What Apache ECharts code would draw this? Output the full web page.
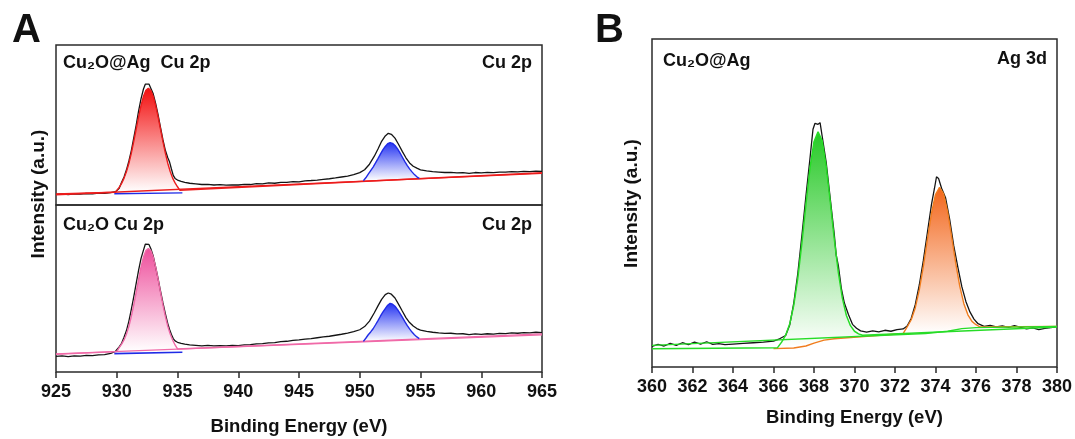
<!DOCTYPE html>
<html><head><meta charset="utf-8">
<script src="https://cdn.jsdelivr.net/npm/echarts@6/dist/echarts.min.js"></script>
<style>html,body{margin:0;padding:0;background:#fff}#c{width:1075px;height:439px}</style>
</head><body><div id="c"></div><script>
// ---------- Panel A (top): Cu2O@Ag Cu 2p ----------
const cuAgExp = [[925.0,6.6],[925.5,6.9],[926.0,6.5],[926.5,7.0],[927.0,6.8],[927.5,7.2],[928.0,6.9],[928.5,7.4],[929.0,7.3],[929.5,7.8],[929.9,8.3],[930.2,10.5],[930.4,14.2],[930.6,17.5],[930.8,22.0],[931.0,27.5],[931.2,34.0],[931.4,42.0],[931.6,50.0],[931.8,58.8],[932.0,66.5],[932.2,72.5],[932.35,75.5],[932.5,76.3],[932.65,75.6],[932.8,74.8],[933.0,69.5],[933.2,63.5],[933.4,56.5],[933.6,48.5],[933.8,40.8],[934.0,34.2],[934.2,29.5],[934.35,26.8],[934.5,22.5],[934.65,18.5],[934.8,16.6],[935.0,15.6],[935.3,14.8],[935.6,14.2],[936.0,13.6],[936.5,13.2],[937.0,12.8],[937.5,12.9],[938.0,12.5],[938.5,12.7],[939.0,12.4],[939.5,12.6],[940.0,12.5],[940.5,12.9],[941.0,12.8],[941.5,13.3],[942.0,13.2],[942.5,13.8],[943.0,13.6],[943.5,14.2],[944.0,14.1],[944.5,14.6],[945.0,14.5],[945.5,15.1],[946.0,15.3],[946.5,15.6],[947.0,16.0],[947.5,16.4],[948.0,16.9],[948.5,17.5],[949.0,18.0],[949.5,19.0],[950.0,20.2],[950.4,22.0],[950.8,25.5],[951.2,30.5],[951.5,35.0],[951.8,39.8],[952.1,43.2],[952.35,44.8],[952.6,44.2],[952.9,41.8],[953.2,37.8],[953.5,33.5],[953.8,29.5],[954.1,26.3],[954.4,24.2],[954.7,23.0],[955.0,22.0],[955.5,21.3],[956.0,20.9],[956.5,20.6],[957.0,20.3],[957.5,20.4],[958.0,20.1],[958.5,20.2],[959.0,19.8],[959.5,20.3],[960.0,20.1],[960.5,20.4],[961.0,20.2],[961.5,20.6],[962.0,20.5],[962.5,20.8],[963.0,20.7],[963.5,21.0],[964.0,20.9],[964.5,21.2],[965.0,21.0]];
const cuAgRedPeak = [[929.9,8.0],[930.2,11.0],[930.4,13.5],[930.6,16.8],[930.8,20.9],[931.0,26.1],[931.2,32.4],[931.4,39.7],[931.6,47.5],[931.8,55.2],[932.0,62.3],[932.2,68.0],[932.4,71.7],[932.6,73.0],[932.8,71.7],[933.0,68.0],[933.2,62.3],[933.4,55.2],[933.6,47.5],[933.8,39.7],[934.0,32.4],[934.2,26.1],[934.4,20.9],[934.6,16.8],[934.8,13.8],[935.0,11.4],[935.2,9.2]];
const cuAgRedLeft = [[925.0,6.9]];
const cuAgRedRight = [[965.0,20.2]];
const cuAgRedBg = [[925.0,6.4],[965.0,19.8]];
const cuAgBlueUnder = [[929.8,7.0],[935.4,7.6]];
const cuAgBluePeak = [[950.3,15.2],[950.5,17.0],[950.7,19.3],[950.9,21.5],[951.1,23.7],[951.3,26.3],[951.5,29.0],[951.7,31.8],[951.9,34.4],[952.1,36.6],[952.3,38.3],[952.5,39.0],[952.7,38.5],[952.9,37.2],[953.1,35.2],[953.3,32.7],[953.5,30.0],[953.7,27.3],[953.9,24.8],[954.1,22.6],[954.3,20.7],[954.5,19.0],[954.7,17.6],[954.9,16.6]];

// ---------- Panel A (bottom): Cu2O Cu 2p ----------
const cu2oExp = [[925.0,9.3],[925.5,9.6],[926.0,9.2],[926.5,9.7],[927.0,9.5],[927.5,9.9],[928.0,9.8],[928.5,10.3],[929.0,10.4],[929.5,11.2],[929.9,12.4],[930.2,15.0],[930.4,17.2],[930.6,20.8],[930.8,24.8],[931.0,30.5],[931.2,37.5],[931.4,45.0],[931.6,53.0],[931.8,61.0],[932.0,68.0],[932.2,73.0],[932.35,76.5],[932.5,77.2],[932.65,76.4],[932.8,74.0],[933.0,69.5],[933.2,63.0],[933.4,56.0],[933.6,48.5],[933.8,41.5],[934.0,35.0],[934.2,29.0],[934.35,25.5],[934.5,22.5],[934.65,20.0],[934.8,18.6],[935.0,17.8],[935.3,17.2],[935.6,16.7],[936.0,16.3],[936.5,16.0],[937.0,15.7],[937.5,15.9],[938.0,15.6],[938.5,15.8],[939.0,15.6],[939.5,15.9],[940.0,15.8],[940.5,16.3],[941.0,16.4],[941.5,16.9],[942.0,17.0],[942.5,17.5],[943.0,17.6],[943.5,18.2],[944.0,18.4],[944.5,18.9],[945.0,19.2],[945.5,19.7],[946.0,20.0],[946.5,20.5],[947.0,21.0],[947.5,21.4],[948.0,22.0],[948.5,22.6],[949.0,23.3],[949.5,24.2],[950.0,25.3],[950.4,27.2],[950.8,30.5],[951.2,35.5],[951.5,39.6],[951.8,43.5],[952.1,46.3],[952.35,47.3],[952.6,46.6],[952.9,44.3],[953.2,40.5],[953.5,36.5],[953.8,32.6],[954.1,29.6],[954.4,27.5],[954.7,26.0],[955.0,25.1],[955.5,24.3],[956.0,23.8],[956.5,23.4],[957.0,23.1],[957.5,23.2],[958.0,22.8],[958.5,22.9],[959.0,22.4],[959.5,22.8],[960.0,22.5],[960.5,22.9],[961.0,22.7],[961.5,23.1],[962.0,23.0],[962.5,23.4],[963.0,23.2],[963.5,23.6],[964.0,23.4],[964.5,23.8],[965.0,23.6]];
const cu2oPinkPeak = [[930.0,12.2],[930.2,14.6],[930.4,16.7],[930.6,19.2],[930.8,22.7],[931.0,27.4],[931.2,33.3],[931.4,40.2],[931.6,47.9],[931.8,55.6],[932.0,62.9],[932.2,68.8],[932.4,72.7],[932.6,74.0],[932.8,72.7],[933.0,68.8],[933.2,62.9],[933.4,55.6],[933.6,47.9],[933.8,40.2],[934.0,33.3],[934.2,27.4],[934.4,22.7],[934.6,19.2],[934.8,16.2],[935.0,13.8]];
const cu2oPinkLeft = [[925.0,10.6]];
const cu2oPinkRight = [[965.0,22.8]];
const cu2oPinkBg = [[925.0,10.8],[965.0,22.2]];
const cu2oBlueUnder = [[929.8,11.0],[935.4,11.8]];
const cu2oBluePeak = [[950.3,18.3],[950.5,20.2],[950.7,22.3],[950.9,24.0],[951.1,25.9],[951.3,28.3],[951.5,30.8],[951.7,33.4],[951.9,35.8],[952.1,38.0],[952.3,40.0],[952.5,41.1],[952.7,40.6],[952.9,39.4],[953.1,37.5],[953.3,35.2],[953.5,32.8],[953.7,30.3],[953.9,27.9],[954.1,25.8],[954.3,23.9],[954.5,22.3],[954.7,21.0],[954.9,20.0]];

// ---------- Panel B: Cu2O@Ag Ag 3d ----------
const agExp = [[360.0,6.3],[360.3,6.9],[360.6,6.4],[360.9,7.2],[361.2,6.6],[361.5,7.4],[361.8,6.8],[362.1,7.6],[362.4,7.0],[362.7,7.7],[363.0,6.9],[363.3,7.1],[363.6,6.8],[364.0,7.0],[364.5,7.2],[365.0,7.4],[365.5,7.6],[366.0,7.9],[366.3,8.6],[366.6,9.6],[366.8,12.8],[367.0,19.5],[367.2,28.5],[367.4,40.0],[367.6,52.0],[367.8,63.5],[367.95,72.5],[368.05,74.3],[368.2,74.0],[368.3,74.5],[368.4,70.5],[368.6,62.5],[368.8,51.5],[369.0,40.5],[369.1,34.0],[369.2,31.0],[369.35,24.0],[369.5,19.5],[369.7,16.0],[369.9,13.0],[370.1,11.8],[370.3,11.0],[370.6,10.6],[370.9,11.0],[371.2,10.7],[371.5,11.2],[371.8,10.9],[372.1,11.4],[372.4,11.6],[372.6,12.5],[372.8,14.8],[373.0,19.0],[373.2,25.0],[373.4,32.5],[373.6,41.0],[373.8,49.5],[373.95,54.5],[374.05,58.0],[374.15,57.5],[374.3,54.5],[374.5,51.5],[374.7,45.0],[374.9,37.0],[375.1,30.5],[375.3,24.5],[375.5,20.0],[375.7,16.8],[375.9,14.6],[376.1,13.2],[376.4,12.4],[376.7,12.7],[377.0,12.2],[377.3,12.5],[377.6,12.1],[377.9,12.6],[378.2,12.1],[378.5,11.6],[378.8,11.9],[379.1,11.4],[379.4,11.8],[379.7,12.0],[380.0,12.3]];
const agGreenPeak = [[366.2,5.9],[366.4,7.6],[366.6,9.7],[366.8,13.1],[367.0,18.8],[367.2,27.1],[367.4,37.7],[367.6,49.5],[367.8,60.6],[368.0,68.7],[368.2,71.7],[368.4,69.0],[368.6,61.3],[368.8,50.6],[369.0,39.1],[369.2,28.9],[369.4,21.0],[369.6,15.7],[369.8,12.6],[370.0,10.9],[370.2,10.1],[370.4,9.7]];
const agGreenLeft = [[360.0,5.6]];
const agGreenRight = [[380.0,12.2]];
const agGreenBg = [[360.0,6.6],[373.5,10.2],[374.6,10.9],[375.3,11.7],[376.0,12.0],[380.0,12.4]];
const agOrangeLeft = [[366.0,5.6],[367.0,5.8],[367.6,6.4],[368.0,7.3],[368.5,8.2],[369.0,8.6]];
const agOrangePeak = [[372.4,10.2],[372.6,12.2],[372.8,14.4],[373.0,18.0],[373.2,23.5],[373.4,30.7],[373.6,38.9],[373.8,46.8],[374.0,52.6],[374.2,54.8],[374.4,52.8],[374.6,47.3],[374.8,39.6],[375.0,31.6],[375.2,24.6],[375.4,19.3],[375.6,15.9],[375.8,13.9],[376.0,12.9],[376.2,12.2]];
const agOrangeRight = [[380.0,12.4]];

// ---------- Axis ticks / labels ----------
const cuTicks = {min: 925, max: 965, interval: 5};
const agTicks = {min: 360, max: 380, interval: 2};
const xTitle = 'Binding Energy (eV)';
const yTitle = 'Intensity (a.u.)';

const FONT = '"Liberation Sans", Arial, Helvetica, sans-serif';
const FRAME = '#2b2b2b';
const C = {black:'#141414', red:'#ec1c1c', blue:'#1f2be6', pink:'#f06aa8', green:'#27dc27', orange:'#f07d1e'};
const FILL = {red:'#f30f0f', blue:'#2433f2', pink:'#ee4f9c', green:'#27c927', orange:'#f2651a'};

function lineS(data, color, gi, width, z){
  return {type:'line', xAxisIndex:gi, yAxisIndex:gi, data:data, symbol:'none', silent:true,
    lineStyle:{color:color, width:width}, z:z, animation:false};
}
function fillS(pts, color, gi){
  const grad = new echarts.graphic.LinearGradient(0,0,0,1,[{offset:0,color:color},{offset:1,color:'#ffffff'}]);
  return {type:'custom', xAxisIndex:gi, yAxisIndex:gi, silent:true, z:1, animation:false,
    data:[pts[0]], encode:{x:0,y:1},
    renderItem:function(params, api){
      return {type:'polygon', shape:{points:pts.map(p=>api.coord(p))}, style:{fill:grad}};
    }};
}
function xAx(gi, t, labels, gap){
  return {type:'value', gridIndex:gi, min:t.min, max:t.max, interval:t.interval,
    axisLine:{show:false}, splitLine:{show:false},
    axisTick:{show:labels, length:6, lineStyle:{color:FRAME, width:1.5}},
    axisLabel:{show:labels, fontFamily:FONT, fontWeight:'bold', fontSize:18, color:'#111', margin:11},
    name: labels ? xTitle : '', nameLocation:'middle', nameGap:gap,
    nameTextStyle:{fontFamily:FONT, fontWeight:'bold', fontSize:18.5, color:'#111'}};
}
function yAx(gi){
  return {type:'value', gridIndex:gi, min:0, max:100, show:false};
}
const gridBase = {show:true, borderColor:FRAME, borderWidth:1.5, backgroundColor:'transparent', containLabel:false, outerBoundsMode:'none'};
function txt(text, x, y, size, align){
  return {type:'text', silent:true, style:{text:text, x:x, y:y, fill:'#111',
    font:'bold '+size+'px '+FONT, align:align||'left', verticalAlign:'middle'}};
}

const chart = echarts.init(document.getElementById('c'), null, {renderer:'canvas'});
chart.setOption({
  animation:false,
  backgroundColor:'#ffffff',
  grid:[
    Object.assign({left:56, top:45, width:486, height:160}, gridBase),
    Object.assign({left:56, top:205, width:486, height:167}, gridBase),
    Object.assign({left:652, top:39, width:405, height:328}, gridBase)
  ],
  xAxis:[xAx(0, cuTicks, false, 0), xAx(1, cuTicks, true, 45), xAx(2, agTicks, true, 41)],
  yAxis:[yAx(0), yAx(1), yAx(2)],
  series:[
    // top A
    fillS(cuAgRedPeak, FILL.red, 0),
    fillS(cuAgBluePeak, FILL.blue, 0),
    lineS(cuAgExp, C.black, 0, 1.3, 2),
    lineS(cuAgRedBg, C.red, 0, 1.3, 3),
    lineS(cuAgRedLeft.concat(cuAgRedPeak, cuAgRedRight), C.red, 0, 1.4, 3),
    lineS(cuAgBlueUnder, C.blue, 0, 1.4, 3),
    lineS(cuAgBluePeak, C.blue, 0, 1.4, 3),
    // bottom A
    fillS(cu2oPinkPeak, FILL.pink, 1),
    fillS(cu2oBluePeak, FILL.blue, 1),
    lineS(cu2oExp, C.black, 1, 1.3, 2),
    lineS(cu2oPinkBg, C.pink, 1, 1.3, 3),
    lineS(cu2oPinkLeft.concat(cu2oPinkPeak, cu2oPinkRight), C.pink, 1, 1.4, 3),
    lineS(cu2oBlueUnder, C.blue, 1, 1.6, 3),
    lineS(cu2oBluePeak, C.blue, 1, 1.4, 3),
    // B
    fillS(agGreenPeak, FILL.green, 2),
    fillS(agOrangePeak, FILL.orange, 2),
    lineS(agExp, C.black, 2, 1.3, 2),
    lineS(agOrangeLeft.concat(agOrangePeak, agOrangeRight), C.orange, 2, 1.4, 3),
    lineS(agGreenBg, C.green, 2, 1.4, 4),
    lineS(agGreenLeft.concat(agGreenPeak, agGreenRight), C.green, 2, 1.5, 4)
  ],
  graphic:[
    txt('A', 12, 31, 40),
    txt('B', 595, 31, 40),
    txt('Cu₂O@Ag  Cu 2p', 63, 63.5, 18),
    txt('Cu 2p', 532, 63, 18, 'right'),
    txt('Cu₂O Cu 2p', 63, 225, 18),
    txt('Cu 2p', 532, 225, 18, 'right'),
    txt('Cu₂O@Ag', 663, 61.5, 18),
    txt('Ag 3d', 1047, 59.5, 18, 'right'),
    {type:'text', silent:true, x:39, y:194, rotation:Math.PI/2,
      style:{text:yTitle, x:0, y:0, fill:'#111', font:'bold 19px '+FONT, align:'center', verticalAlign:'middle'}},
    {type:'text', silent:true, x:632, y:203.5, rotation:Math.PI/2,
      style:{text:yTitle, x:0, y:0, fill:'#111', font:'bold 19px '+FONT, align:'center', verticalAlign:'middle'}}
  ]
});
</script></body></html>
